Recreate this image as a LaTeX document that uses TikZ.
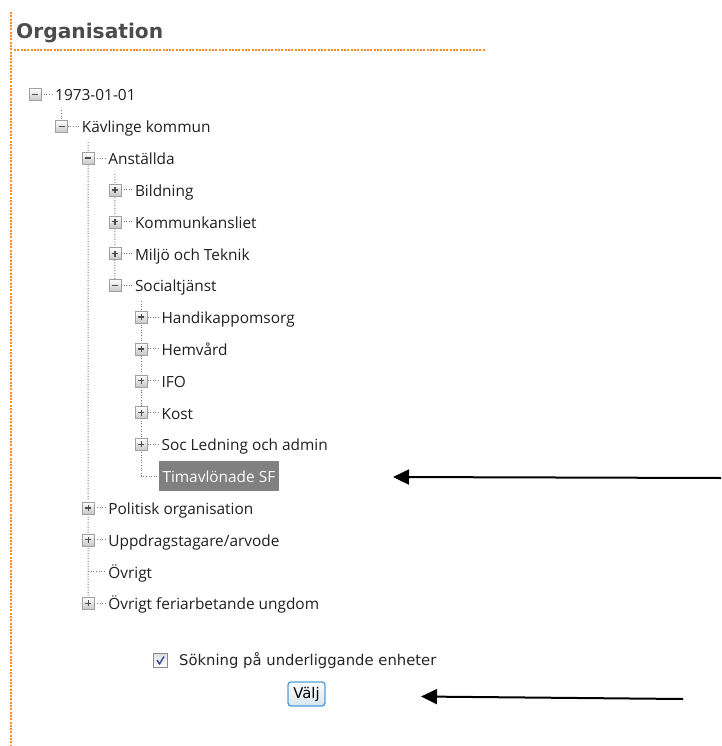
\documentclass[tikz,border=0pt]{standalone}
\usepackage{fontspec}
\setmainfont{Open Sans}
\newfontfamily\vfont{DejaVu Sans}
\usetikzlibrary{arrows.meta,backgrounds,calc}
\definecolor{orng}{RGB}{250,140,40}
\definecolor{tlc}{RGB}{120,120,120}
\definecolor{boxbd}{RGB}{160,160,160}
\definecolor{chkblue}{RGB}{60,80,150}
\definecolor{btnbd}{RGB}{80,160,215}
\definecolor{btnfill}{RGB}{215,228,238}
\definecolor{hlgray}{RGB}{128,128,128}
\newcommand{\titem}[5]{%
  \pgfmathsetmacro\cx{35+26.6*#2}%
  \pgfmathsetmacro\cy{94.5+31.8*#3}%
  \node[itemtext] (#1) at (\cx+20,\cy+6.5) {#5};
  \ifx n#4\else
    \node[tbox,#4sign] (#1-box) at (\cx,\cy) {};
    \draw[tl] (#1-box.east) -- ([xshift=-3pt]#1.west |- #1-box.east);
  \fi
}
\begin{document}
\begin{tikzpicture}[x=1pt,y=-1pt,
  itemtext/.style={anchor=base west,inner sep=0pt,
    font=\fontsize{15.4}{18}\selectfont,text=black!88},
  tbox/.style={draw=boxbd,minimum size=12pt,inner sep=0pt,top color=white,bottom color=black!22},
  msign/.style={path picture={\draw[line width=1.4pt,black!70]
    ([xshift=-3pt]path picture bounding box.center) -- ([xshift=3pt]path picture bounding box.center);}},
  psign/.style={path picture={\draw[line width=1.4pt,black!70]
    ([xshift=-3pt]path picture bounding box.center) -- ([xshift=3pt]path picture bounding box.center)
    ([yshift=-3pt]path picture bounding box.center) -- ([yshift=3pt]path picture bounding box.center);}},
  tl/.style={draw=tlc,line width=1pt,dash pattern=on 1pt off 1.6pt},
  orl/.style={draw=orng,line width=1.3pt,dash pattern=on 2pt off 1.3pt},
  pointer/.style={line width=2pt,-{Triangle[length=16pt,width=15pt]}}
]
\useasboundingbox (0,0) rectangle (721,746);

% header
\coordinate (ov1) at (11,12);
\coordinate (ov2) at (11,746);
\coordinate (oh1) at (14,50);
\coordinate (oh2) at (485,50);
\draw[orl] (ov1) -- (ov2);
\draw[orl] (oh1) -- (oh2);
\node[anchor=base west,inner sep=0pt,font=\vfont\bfseries\fontsize{20.2}{24}\selectfont,text=black!70] (title) at (16,38.5) {Organisation};

% tree
\titem{y73}{0}{0}{m}{1973-01-01}
\titem{kav}{1}{1}{m}{Kävlinge kommun}
\titem{anst}{2}{2}{m}{Anställda}
\titem{bild}{3}{3}{p}{Bildning}
\titem{komm}{3}{4}{p}{Kommunkansliet}
\titem{milj}{3}{5}{p}{Miljö och Teknik}
\titem{soc}{3}{6}{m}{Socialtjänst}
\titem{handi}{4}{7}{p}{Handikappomsorg}
\titem{hemv}{4}{8}{p}{Hemvård}
\titem{ifo}{4}{9}{p}{IFO}
\titem{kost}{4}{10}{p}{Kost}
\titem{socled}{4}{11}{p}{Soc Ledning och admin}
\node[anchor=west,inner ysep=0pt,inner xsep=3.8pt,text height=14pt,text depth=1pt,
  font=\fontsize{15.4}{18}\selectfont,fill=hlgray,text=white,minimum height=30pt] (tim) at (158.5,476.1) {Timavlönade SF};
\titem{pol}{2}{13}{p}{Politisk organisation}
\titem{upp}{2}{14}{p}{Uppdragstagare/arvode}
\titem{ovr}{2}{15}{n}{Övrigt}
\titem{ovrf}{2}{16}{p}{Övrigt feriarbetande ungdom}

\coordinate (v1) at (61.6,110.4);
\coordinate (v2) at (88.2,142.2);
\coordinate (v3) at (114.8,174);
\coordinate (v4) at (141.4,301.2);
\coordinate (timc) at (141.4,476.1);
\coordinate (ovrc) at (88.2,571.5);
\begin{pgfonlayer}{background}
\draw[tl] (v1) -- (kav-box.north);
\draw[tl] (v2) -- (ovrf-box.north);
\draw[tl] (v3) -- (soc-box.north);
\draw[tl] (v4) -- (timc) -- (tim.west);
\draw[tl] (ovrc) -- ([xshift=-3pt]ovr.west |- ovrc);
\end{pgfonlayer}

% checkbox and button
\node[draw=black!45,minimum size=14pt,inner sep=0pt,top color=black!12,bottom color=white,
  path picture={\draw[line width=1.5pt,chkblue,line join=round]
   ([shift={(-3.5pt,0.5pt)}]path picture bounding box.center) --
   ([shift={(-1pt,-3.5pt)}]path picture bounding box.center) --
   ([shift={(3.5pt,4pt)}]path picture bounding box.center);}] (chk) at (160.5,660.5) {};
\node[anchor=west,inner sep=0pt,font=\vfont\fontsize{14.8}{17}\selectfont,text=black!85] (chktext) at (179,660.5) {Sökning på underliggande enheter};
\node[draw=btnbd,line width=1.3pt,rounded corners=3pt,minimum width=37pt,minimum height=24pt,inner sep=0pt,
  top color=white,bottom color=btnfill,font=\vfont\fontsize{14.8}{17}\selectfont] (valj) at (306.5,694) {Välj};

% arrows
\coordinate (a1s) at (721,478);
\coordinate (a1e) at (393,477);
\coordinate (a2s) at (683,699);
\coordinate (a2e) at (421,696.5);
\draw[pointer] (a1s) -- (a1e);
\draw[pointer] (a2s) -- (a2e);
\end{tikzpicture}
\end{document}
